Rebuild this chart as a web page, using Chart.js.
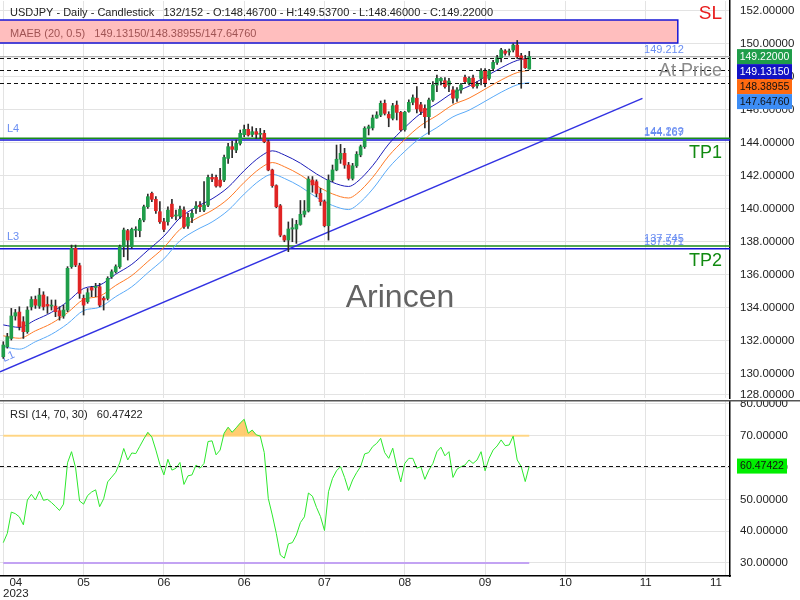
<!DOCTYPE html>
<html>
<head>
<meta charset="utf-8">
<script src="https://cdn.jsdelivr.net/npm/chart.js@4.4.1/dist/chart.umd.min.js"></script>
<style>
  body { margin: 0; background: #fff; }
  #wrap { position: relative; width: 800px; height: 600px; }
  canvas { position: absolute; left: 0; }
</style>
</head>
<body>
<div id="wrap">
  <canvas id="priceChart" width="800" height="400" style="top:0"></canvas>
  <canvas id="rsiChart" width="800" height="200" style="top:400px"></canvas>
</div>
<script>
// Candles (daily USDJPY)
const opens = [131.03,131.64,132.14,133.50,133.74,133.15,132.55,134.06,134.50,134.10,
  134.77,134.20,134.10,134.10,133.82,133.50,133.86,136.49,137.60,136.55,
  134.57,134.37,135.23,135.23,135.27,134.57,134.57,135.88,136.18,136.49,
  137.70,138.67,137.70,138.70,138.67,139.32,140.12,140.93,140.57,139.82,
  139.21,139.21,140.28,139.56,139.56,139.92,138.95,139.48,140.02,140.22,
  139.92,140.22,141.90,141.90,141.74,141.74,143.05,143.76,143.56,143.96,
  144.49,144.81,144.50,144.67,144.51,144.57,144.06,142.35,141.40,140.18,
  138.36,138.10,138.77,138.77,139.05,139.66,139.86,141.74,141.64,140.93,
  140.43,138.97,141.74,142.35,143.00,143.36,142.65,141.84,142.60,143.26,
  143.76,144.87,144.90,145.50,145.68,146.39,145.72,145.48,146.28,145.84,
  144.80,145.90,146.45,146.70,146.30,146.08,145.58,146.59,147.50,147.75,
  147.76,147.50,147.20,146.70,147.20,147.96,147.60,147.92,147.45,147.90,
  148.35,147.90,148.50,148.87,149.15,149.56,149.50,149.62,149.92,149.27,
  149.07,148.467];
const highs = [131.94,132.45,133.96,133.90,134.06,133.46,134.06,134.67,134.71,135.17,
  134.97,134.67,134.47,134.47,134.06,134.16,136.49,137.80,137.80,136.70,
  134.77,135.17,135.30,135.48,135.48,134.67,135.88,136.30,136.60,137.80,
  138.83,138.75,138.83,138.91,139.42,140.22,140.89,141.01,140.73,140.43,
  139.42,140.12,140.57,139.92,140.16,140.12,139.72,139.92,140.43,140.43,
  141.64,142.04,142.10,142.04,142.45,143.25,143.96,144.10,144.16,144.77,
  145.07,145.13,144.97,144.87,144.87,144.75,144.16,142.40,141.45,140.26,
  138.40,139.20,139.40,139.30,140.50,140.50,141.95,141.95,141.75,141.23,
  140.53,142.05,142.65,143.86,143.90,143.66,142.81,142.75,143.46,143.86,
  144.97,145.07,145.68,145.88,146.53,146.59,145.88,146.39,146.53,145.90,
  145.90,146.60,146.90,147.40,146.45,146.30,146.70,147.70,148.10,147.95,
  147.95,147.90,147.40,147.35,147.60,148.10,148.00,148.10,147.70,148.50,
  148.50,148.45,149.00,149.30,149.72,149.65,149.68,150.00,150.20,149.42,
  149.30,149.537];
const lows = [130.93,131.55,132.04,133.25,132.65,132.14,132.45,133.86,133.96,133.96,
  133.86,133.66,133.86,133.46,133.25,133.36,133.76,136.39,136.49,134.57,
  133.56,134.27,134.67,134.67,134.06,133.86,134.47,135.78,136.10,136.39,
  137.09,136.89,137.60,138.30,138.30,139.21,140.02,140.43,139.72,139.11,
  138.61,139.01,139.42,139.32,139.42,138.81,138.81,139.15,139.72,139.82,
  139.82,140.12,141.64,141.30,141.30,141.64,142.75,143.10,143.40,143.86,
  144.37,144.40,144.37,144.26,144.26,144.00,142.30,141.30,140.06,138.30,
  138.00,137.40,138.00,137.90,139.00,139.50,139.80,141.00,140.73,140.20,
  138.90,138.10,141.64,142.30,142.75,142.45,141.74,141.74,142.50,143.15,
  143.66,144.47,144.77,145.48,145.58,145.68,144.97,145.38,145.38,144.70,
  144.70,145.85,146.30,145.80,145.70,144.90,144.50,146.50,147.10,147.50,
  147.30,147.10,146.40,146.50,147.00,147.60,147.50,147.30,147.30,147.50,
  147.40,147.80,148.40,148.75,148.90,149.30,149.30,149.50,149.10,147.30,
  148.50,148.46];
const closes = [131.74,132.24,133.50,133.70,132.85,132.55,133.86,134.50,134.16,134.77,
  134.06,134.10,134.16,133.76,133.50,133.86,136.39,137.60,136.59,134.87,
  134.16,134.91,135.07,135.30,134.16,134.47,135.78,136.18,136.49,137.70,
  138.71,138.10,138.75,138.75,139.32,140.12,140.73,140.57,139.88,139.21,
  138.75,139.92,139.52,139.60,139.96,138.91,139.48,139.72,140.16,140.12,
  140.22,141.90,141.80,141.38,141.38,143.11,143.76,143.60,143.96,144.57,
  144.81,144.47,144.67,144.51,144.55,144.06,142.35,141.40,140.12,138.40,
  138.10,138.77,138.85,139.05,139.66,139.86,141.80,141.44,140.93,140.43,
  138.97,141.74,142.35,143.00,143.36,142.65,141.84,142.60,143.30,143.76,
  144.87,144.97,145.50,145.68,146.39,145.78,145.50,146.24,145.84,144.78,
  145.85,146.45,146.73,146.05,145.90,145.58,146.59,147.50,147.90,147.90,
  147.40,147.74,146.70,147.20,147.50,147.70,147.90,147.40,147.55,148.35,
  147.60,148.35,148.87,149.15,149.62,149.42,149.55,149.92,149.21,149.07,
  148.55,149.22];

// MAEB (20, 0.5) envelope, read at these candle indices
const maIdx = [0,4,8,12,16,20,24,28,32,36,40,44,48,52,56,60,64,67,70,74,
  78,82,86,88,92,96,100,104,108,112,116,120,124,128,131];
const maUpper = [132.96,132.81,133.26,133.72,134.37,135.17,135.37,136.03,136.63,137.48,
  138.34,139.44,140.10,140.60,141.30,142.31,143.16,143.51,143.26,142.76,
  142.11,141.60,141.35,141.60,142.61,143.92,144.92,145.78,146.38,147.03,
  147.43,147.99,148.54,148.99,149.1315];
const maMid = [132.30,132.15,132.60,133.05,133.70,134.50,134.70,135.35,135.95,136.80,
  137.65,138.75,139.40,139.90,140.60,141.60,142.45,142.80,142.55,142.05,
  141.40,140.90,140.65,140.90,141.90,143.20,144.20,145.05,145.65,146.30,
  146.70,147.25,147.80,148.25,148.38955];
const maLower = [131.64,131.49,131.94,132.39,133.03,133.83,134.03,134.67,135.27,136.12,
  136.96,138.06,138.70,139.20,139.90,140.89,141.74,142.09,141.84,141.34,
  140.69,140.20,139.95,140.20,141.19,142.48,143.48,144.32,144.92,145.57,
  145.97,146.51,147.06,147.51,147.6476];

// RSI (14)
const rsi = [36.4,39.3,46.0,45.5,44.5,42.0,49.8,51.6,49.8,52.6,
  49.7,50.0,49.0,47.8,46.5,48.5,61.5,65.0,60.0,49.5,
  48.5,51.2,52.3,53.0,47.7,50.2,55.5,57.0,58.5,61.5,
  66.0,62.4,64.6,64.4,66.7,69.0,71.1,69.6,65.5,61.0,
  57.7,62.6,59.2,59.8,61.6,54.7,57.4,57.7,60.8,59.8,
  61.3,68.2,68.4,64.0,65.5,70.8,72.7,71.1,72.5,74.0,
  75.2,70.8,71.8,70.3,69.9,64.7,50.3,45.1,39.3,32.5,
  31.5,36.0,36.4,38.8,42.7,44.5,52.0,51.0,47.5,44.6,
  40.2,52.4,56.6,59.0,60.3,56.9,52.8,56.1,58.4,60.3,
  64.3,64.7,66.6,67.6,69.2,64.7,62.9,66.1,60.3,55.5,
  61.3,62.9,62.9,59.8,60.3,56.3,59.2,61.3,65.0,66.4,
  63.7,65.0,56.9,59.5,60.3,60.8,62.4,61.3,62.4,65.0,
  59.0,62.9,65.5,66.8,68.7,66.9,67.1,69.9,62.4,60.3,
  55.6,60.47422];

// axis labels (one every 20 candles)
const monthLabels = ['04','05','06','06','07','08','09','10','11','11'];
const priceTicks = [128,130,132,134,136,138,140,142,144,146,148,150,152];
const rsiTicks = [30,40,50,60,70,80];

// drawn levels
const trendIdx = [-0.82, 159.2];
const trendVal = [130.12, 146.69];
const slZone = [150.04, 151.44];
const slEndIdx = 168;
const levelL4 = [144.269, 144.167];
const levelL3 = [137.745, 137.571];
const atPrice = 149.212;
const lastClose = 149.22;
const lastRsi = 60.47422;

const FONT = '"Liberation Sans", Arial, Helvetica, sans-serif';
const GRID = '#e3e3e3';
Chart.defaults.font.family = FONT;
Chart.defaults.font.size = 11;
Chart.defaults.color = '#222';

const idx = closes.map((c, i) => i);

function txt(ctx, s, x, y, size, color, align, base) {
  ctx.font = size + 'px ' + FONT;
  ctx.fillStyle = color;
  ctx.textAlign = align || 'left';
  ctx.textBaseline = base || 'middle';
  ctx.fillText(s, x, y);
}

function hline(ctx, x0, x1, y, color, width, dash) {
  ctx.save();
  ctx.strokeStyle = color;
  ctx.lineWidth = width;
  ctx.setLineDash(dash || []);
  ctx.beginPath();
  ctx.moveTo(x0, y);
  ctx.lineTo(x1, y);
  ctx.stroke();
  ctx.restore();
}

function rightAxisFit(s) {
  s.width = 70;
  s.paddingTop = 0;
  s.paddingBottom = 0;
}

function xScale(showTicks) {
  return {
    type: 'linear', min: -0.82, max: 181, offset: false,
    grid: { color: GRID, drawTicks: false, offset: false },
    border: showTicks ? { color: '#000', width: 1.5 } : { display: false },
    ticks: { display: false },
    afterBuildTicks: s => { s.ticks = monthLabels.map((m, k) => ({ value: k * 20 })); },
    afterFit: s => { s.height = showTicks ? 24 : 2; s.paddingLeft = 0; s.paddingRight = 0; }
  };
}

// right axis value boxes
function valueBox(ctx, x, yc, label, bg, fg, w) {
  ctx.fillStyle = bg;
  ctx.fillRect(x, yc - 7.5, w, 15);
  txt(ctx, label, x + w / 2, yc + 0.5, 10.5, fg, 'center');
}

const pricePlugin = {
  id: 'priceDecor',
  beforeDatasetsDraw(chart) {
    const { ctx, chartArea: a, scales: { x, y } } = chart;
    ctx.save();
    // SL zone
    const x1 = x.getPixelForValue(slEndIdx);
    const yT = y.getPixelForValue(slZone[1]), yB = y.getPixelForValue(slZone[0]);
    ctx.fillStyle = '#ffbebe';
    ctx.fillRect(a.left, yT, x1 - a.left, yB - yT);
    ctx.strokeStyle = '#1717d6';
    ctx.lineWidth = 1.5;
    ctx.beginPath();
    ctx.moveTo(a.left, yT); ctx.lineTo(x1, yT); ctx.lineTo(x1, yB); ctx.lineTo(a.left, yB);
    ctx.stroke();

    // support / resistance levels
    hline(ctx, a.left, a.right, y.getPixelForValue(levelL4[0]), '#1a8c1a', 1.5);
    hline(ctx, a.left, a.right, y.getPixelForValue(levelL4[1]), '#1515d8', 1.5);
    hline(ctx, a.left, a.right, y.getPixelForValue(levelL3[0]), '#1a8c1a', 1.5);
    hline(ctx, a.left, a.right, y.getPixelForValue(levelL3[1]), '#1515d8', 1.5);
    hline(ctx, a.left, a.right, y.getPixelForValue(atPrice), '#9a9a9a', 1);

    const lx = x.getPixelForValue(159.6);
    const lblC = '#6a8ef2';
    [atPrice, levelL4[0], levelL4[1], levelL3[0], levelL3[1]].forEach(v => {
      txt(ctx, v.toFixed(3), lx, y.getPixelForValue(v) - 3.5, 11, lblC, 'left', 'alphabetic');
    });
    txt(ctx, 'L4', 7, 129, 11, lblC);
    txt(ctx, 'L3', 7, 237, 11, lblC);
    ctx.save();
    ctx.translate(4, 362);
    ctx.rotate(-0.4);
    txt(ctx, 'L1', 0, 0, 11, lblC, 'left', 'alphabetic');
    ctx.restore();

    txt(ctx, 'Arincen', 400, 298, 32, '#636363', 'center');
    ctx.restore();
  },
  afterDatasetsDraw(chart) {
    const { ctx, chartArea: a, scales: { y } } = chart;
    ctx.save();
    [maUpper, maMid, maLower].forEach(arr => {
      hline(ctx, a.left, a.right, Math.round(y.getPixelForValue(arr[arr.length - 1])) + 0.5, '#111', 1, [4, 3]);
    });
    txt(ctx, 'USDJPY - Daily - Candlestick   132/152 - O:148.46700 - H:149.53700 - L:148.46000 - C:149.22000', 10, 13, 11, '#222');
    txt(ctx, 'MAEB (20, 0.5)   149.13150/148.38955/147.64760', 10, 34, 11, '#a05454');
    txt(ctx, 'SL', 722, 14, 19, '#e81c1c', 'right');
    txt(ctx, 'At Price', 722, 71, 18, '#8a8a8a', 'right');
    txt(ctx, 'TP1', 722, 153, 18, '#118a11', 'right');
    txt(ctx, 'TP2', 722, 261, 18, '#118a11', 'right');
    ctx.restore();
  },
  afterDraw(chart) {
    const { ctx, chartArea: a, scales: { y } } = chart;
    ctx.save();
    const bx = a.right + 7;
    const boxes = [
      [lastClose, '#1f9d4a', '#fff'],
      [maUpper[maUpper.length - 1], '#1212c4', '#fff'],
      [maMid[maMid.length - 1], '#ff6a10', '#111'],
      [maLower[maLower.length - 1], '#3d8df5', '#111']
    ];
    let prev = -100;
    boxes.forEach(([v, bg, fg]) => {
      const yc = Math.max(y.getPixelForValue(v), prev + 15);
      valueBox(ctx, bx, yc, v.toFixed(5), bg, fg, 55);
      prev = yc;
    });
    ctx.restore();
  }
};

new Chart(document.getElementById('priceChart'), {
  type: 'bar',
  data: {
    datasets: [
      {
        label: 'body',
        data: idx.map(i => ({ x: i, y: [Math.min(opens[i], closes[i]), Math.max(opens[i], closes[i])] })),
        backgroundColor: idx.map(i => closes[i] >= opens[i] ? '#1f9d4a' : '#e02424'),
        barThickness: 3, grouped: false, minBarLength: 1
      },
      {
        label: 'wick',
        data: idx.map(i => ({ x: i, y: [lows[i], highs[i]] })),
        backgroundColor: '#2a2a2a',
        barThickness: 1, grouped: false
      },
      {
        type: 'line', label: 'upper',
        data: maIdx.map((i, k) => ({ x: i, y: maUpper[k] })),
        borderColor: '#1c1cb8', borderWidth: 1, pointRadius: 0, cubicInterpolationMode: 'monotone'
      },
      {
        type: 'line', label: 'mid',
        data: maIdx.map((i, k) => ({ x: i, y: maMid[k] })),
        borderColor: '#ff7a26', borderWidth: 1, pointRadius: 0, cubicInterpolationMode: 'monotone'
      },
      {
        type: 'line', label: 'lower',
        data: maIdx.map((i, k) => ({ x: i, y: maLower[k] })),
        borderColor: '#5aaaf8', borderWidth: 1, pointRadius: 0, cubicInterpolationMode: 'monotone'
      },
      {
        type: 'line', label: 'trend',
        data: trendIdx.map((i, k) => ({ x: i, y: trendVal[k] })),
        borderColor: '#3232e2', borderWidth: 1.5, pointRadius: 0
      }
    ]
  },
  options: {
    responsive: false,
    animation: false,
    layout: { padding: { top: 1, left: 0, right: 0, bottom: 0 } },
    plugins: { legend: { display: false }, tooltip: { enabled: false } },
    scales: {
      x: xScale(false),
      y: {
        position: 'right', min: 128.53, max: 152.59,
        grid: { color: GRID, drawTicks: false },
        border: { color: '#000', width: 1.5 },
        ticks: { padding: 10, color: '#222', font: { size: 11.5 }, callback: v => (v < 129 ? 128 : v).toFixed(5) },
        afterBuildTicks: s => { s.ticks = priceTicks.map(v => ({ value: Math.max(v, s.min + 0.2) })); },
        afterFit: rightAxisFit
      }
    }
  },
  plugins: [pricePlugin]
});

const rsiPlugin = {
  id: 'rsiDecor',
  afterDatasetsDraw(chart) {
    const { ctx, chartArea: a, scales: { y } } = chart;
    hline(ctx, a.left, a.right, Math.round(y.getPixelForValue(lastRsi)) + 0.5, '#111', 1, [4, 3]);
    txt(ctx, 'RSI (14, 70, 30)   ' + lastRsi.toFixed(5), 10, 15, 11, '#222');
  },
  afterDraw(chart) {
    const { ctx, chartArea: a, scales: { x, y } } = chart;
    ctx.save();
    valueBox(ctx, a.right + 7, y.getPixelForValue(lastRsi), lastRsi.toFixed(5), '#00ee00', '#111', 50);
    ctx.fillStyle = '#555';
    ctx.fillRect(0, 0, 800, 1.5);
    ctx.font = '11.5px ' + FONT;
    monthLabels.forEach((m, k) => {
      const lines = k === 0 ? [m, '2023'] : [m];
      const w = Math.max(...lines.map(s => ctx.measureText(s).width));
      let cx = x.getPixelForValue(k * 20);
      cx = Math.max(cx, a.left + w / 2 + 3);
      cx = Math.min(cx, a.right - w / 2 - 8);
      lines.forEach((s, j) => txt(ctx, s, cx, a.bottom + 7 + j * 11, 11.5, '#222', 'center'));
    });
    ctx.restore();
  }
};

new Chart(document.getElementById('rsiChart'), {
  type: 'line',
  data: {
    datasets: [
      {
        label: 'rsi',
        data: idx.map(i => ({ x: i, y: rsi[i] })),
        borderColor: '#2de82d', borderWidth: 1, pointRadius: 0,
        fill: { target: { value: 70 }, above: 'rgba(255,196,90,0.85)', below: 'rgba(0,0,0,0)' }
      },
      {
        label: 'ob',
        data: [{ x: 0, y: 70 }, { x: idx.length - 1, y: 70 }],
        borderColor: '#ffd98c', borderWidth: 2, pointRadius: 0
      },
      {
        label: 'os',
        data: [{ x: 0, y: 30 }, { x: idx.length - 1, y: 30 }],
        borderColor: '#c3a3f3', borderWidth: 2, pointRadius: 0
      }
    ]
  },
  options: {
    responsive: false,
    animation: false,
    layout: { padding: { top: 1, left: 0, right: 0, bottom: 0 } },
    plugins: { legend: { display: false }, tooltip: { enabled: false } },
    scales: {
      x: xScale(true),
      y: {
        position: 'right', min: 25.9, max: 80.94,
        grid: { color: GRID, drawTicks: false },
        border: { color: '#000', width: 1.5 },
        ticks: { padding: 10, color: '#222', font: { size: 11.5 }, callback: v => v.toFixed(5) },
        afterBuildTicks: s => { s.ticks = rsiTicks.map(v => ({ value: v })); },
        afterFit: rightAxisFit
      }
    }
  },
  plugins: [rsiPlugin]
});
</script>
</body>
</html>
